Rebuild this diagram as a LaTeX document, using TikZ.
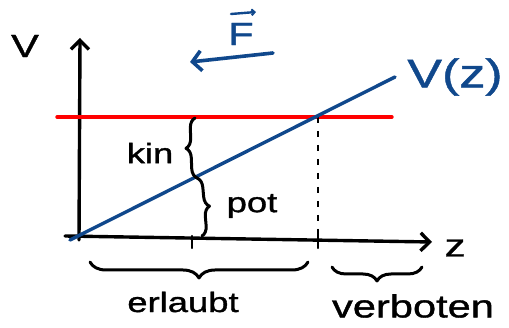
\documentclass[tikz,border=0pt]{standalone}
\usepackage{fontspec}
\setmainfont{Liberation Sans}
\newfontfamily\hand[FakeStretch=1.3,FakeBold=1.2]{Liberation Sans}
\usetikzlibrary{arrows.meta,decorations.pathreplacing}
\definecolor{penblue}{RGB}{16,72,140}
\begin{document}
\begin{tikzpicture}[x=1pt,y=-1pt,
  ink/.style={line width=3.4pt,line cap=round,line join=round},
  tip/.style={-{Straight Barb[length=9pt,width=18pt,line width=3.4pt]}},
  lbl/.style={font=\hand\fontsize{#1}{#1}\selectfont,inner sep=0pt},
  lbl/.default=28,
  brc/.style={ink,line width=3pt,decorate,decoration={brace,amplitude=#1}}]
\useasboundingbox (0,0) rectangle (509,328);
% coordinates
\coordinate (yb) at (79,240);
\coordinate (yt) at (80,38);
\coordinate (xl) at (65,236);
\coordinate (xr) at (432,242);
\coordinate (rl) at (57,117);
\coordinate (rr) at (392,117);
\coordinate (bl) at (70,240);
\coordinate (br) at (395,77);
\coordinate (cross) at (318,117);
\coordinate (cb) at (318,238);
\coordinate (mid) at (197,178);
\coordinate (t1a) at (192,236);
\coordinate (t1b) at (192,248);
\coordinate (t2a) at (318,230);
\coordinate (t2b) at (318,248);
\coordinate (fs) at (273,53);
\coordinate (fe) at (190,62);
\coordinate (va) at (231,14);
\coordinate (vb) at (256,12);
% axes
\draw[ink,tip] (yb) -- (yt);
\draw[ink,tip] (xl) -- (xr);
\draw[ink,line width=2.2pt] (t1a) -- (t1b);
\draw[ink,line width=2.2pt] (t2a) -- (t2b);
% red line
\draw[ink,red,line width=3.4pt] (rl) -- (rr);
% dashed
\draw[line width=2pt,dash pattern=on 6pt off 8pt] (cross) -- (cb);
% blue line
\draw[ink,penblue,line width=3.4pt] (bl) -- (br);
% force arrow
\draw[ink,penblue,line width=3.6pt,-{Straight Barb[length=9pt,width=20pt,line width=3.6pt]}] (fs) -- (fe);
% braces
\draw[brc=10pt] (mid) -- (195,118);
\draw[brc=10pt] (mid) -- (202,236);
\draw[brc=16pt] (308,262) -- (90,262);
\draw[brc=14pt] (422,267) -- (332,267);
% labels
\node[lbl=32] (V) at (25,46) {V};
\node[lbl=32] (z) at (455,248) {z};
\node[lbl=32,penblue] (F) at (241,34) {F};
\draw[penblue,line width=2.4pt,line cap=round,-{Straight Barb[length=3pt,width=6pt,line width=2pt]}] (va) -- (vb);
\node[lbl=40,penblue] (Vz) at (455,77) {V(z)};
\node[lbl=28] (kin) at (150,153) {kin};
\node[lbl=28] (pot) at (252,206) {pot};
\node[lbl=28] (erl) at (183,302) {erlaubt};
\node[lbl=32] (verb) at (413,306) {verboten};
\end{tikzpicture}
\end{document}
